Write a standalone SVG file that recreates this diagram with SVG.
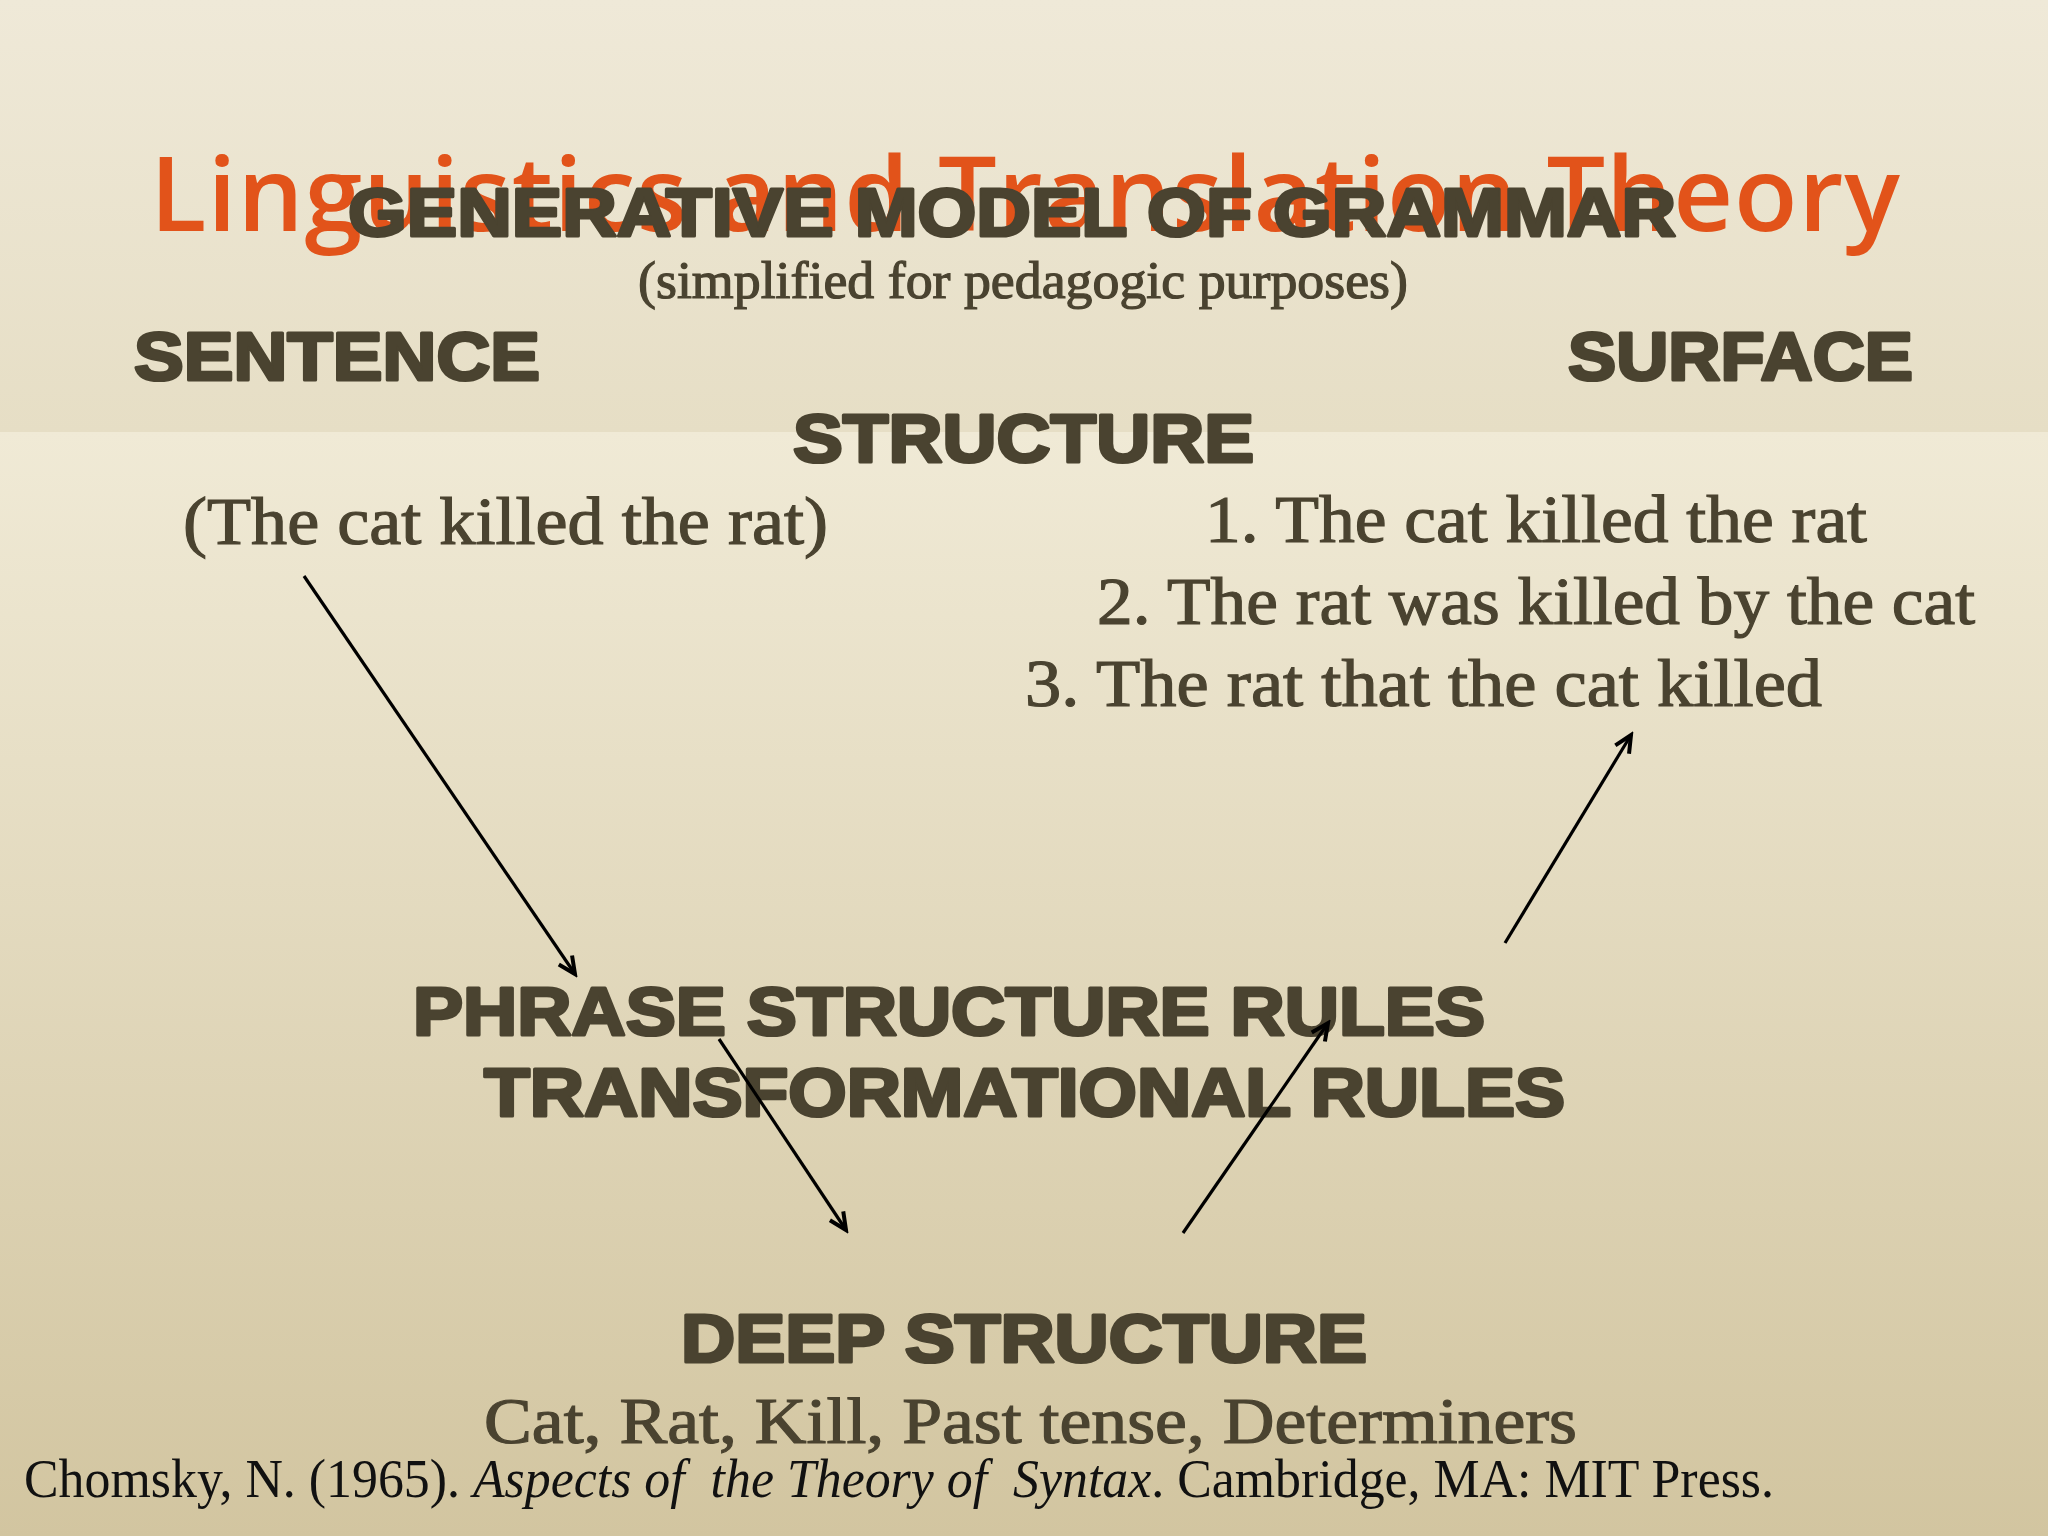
<svg xmlns="http://www.w3.org/2000/svg" width="2048" height="1536" viewBox="0 0 2048 1536">
  <defs>
    <linearGradient id="bgTop" x1="0" y1="0" x2="0" y2="1">
      <stop offset="0" stop-color="#efe9d8"/>
      <stop offset="1" stop-color="#e6dec5"/>
    </linearGradient>
    <linearGradient id="bgBottom" x1="0" y1="0" x2="0" y2="1">
      <stop offset="0" stop-color="#f0ead6"/>
      <stop offset="1" stop-color="#d2c5a0"/>
    </linearGradient>
    <marker id="arrow" markerUnits="userSpaceOnUse" viewBox="-20 -12 24 24" markerWidth="24" markerHeight="24" refX="0" refY="0" orient="auto">
      <path d="M-17,-8 L0,0 L-17,8" fill="none" stroke="#000" stroke-width="4" stroke-linejoin="miter"/>
    </marker>
    <style>
      .title { font-family: "Open Sans", "Noto Sans", sans-serif; font-weight: 600; fill: #e2531a; }
      .heavy { font-family: "Liberation Sans", Arial, sans-serif; font-weight: bold; fill: #4a4330; stroke: #4a4330; stroke-width: 3.2; stroke-linejoin: round; paint-order: stroke; }
      .serif { font-family: "Liberation Serif", "Times New Roman", serif; fill: #4a4330; stroke: #4a4330; stroke-width: 1.2; }
      .ref { font-family: "Liberation Serif", "Times New Roman", serif; fill: #111; white-space: pre; }
      .conn { stroke: #000; stroke-width: 3.2; fill: none; marker-end: url(#arrow); }
    </style>
  </defs>

  <rect x="0" y="0" width="2048" height="432" fill="url(#bgTop)"/>
  <rect x="0" y="432" width="2048" height="1104" fill="url(#bgBottom)"/>

  <g id="title">
    <text class="title" x="150" y="231" font-size="104" textLength="1750">Linguistics and Translation Theory</text>
  </g>

  <g id="heading">
    <text class="heavy" x="348" y="236" font-size="69" textLength="1328" lengthAdjust="spacingAndGlyphs">GENERATIVE MODEL OF GRAMMAR</text>
    <text class="serif" x="638" y="298" font-size="52" textLength="770" lengthAdjust="spacingAndGlyphs">(simplified for pedagogic purposes)</text>
  </g>

  <g id="sentence-input">
    <text class="heavy" x="134" y="380" font-size="69" textLength="406" lengthAdjust="spacingAndGlyphs">SENTENCE</text>
    <text class="serif" x="183" y="544" font-size="68" textLength="645" lengthAdjust="spacingAndGlyphs">(The cat killed the rat)</text>
  </g>

  <g id="surface-structure">
    <text class="heavy" x="1568" y="380" font-size="69" textLength="345" lengthAdjust="spacingAndGlyphs">SURFACE</text>
    <text class="heavy" x="793" y="462" font-size="69" textLength="461" lengthAdjust="spacingAndGlyphs">STRUCTURE</text>
    <text class="serif" x="1205" y="542" font-size="68" textLength="662" lengthAdjust="spacingAndGlyphs">1. The cat killed the rat</text>
    <text class="serif" x="1097" y="624" font-size="68" textLength="878" lengthAdjust="spacingAndGlyphs">2. The rat was killed by the cat</text>
    <text class="serif" x="1025" y="706" font-size="68" textLength="797" lengthAdjust="spacingAndGlyphs">3. The rat that the cat killed</text>
  </g>

  <g id="rules">
    <text class="heavy" x="413" y="1035" font-size="69" textLength="1072" lengthAdjust="spacingAndGlyphs">PHRASE STRUCTURE RULES</text>
    <text class="heavy" x="484" y="1116" font-size="69" textLength="1081" lengthAdjust="spacingAndGlyphs">TRANSFORMATIONAL RULES</text>
  </g>

  <g id="deep-structure">
    <text class="heavy" x="681" y="1362" font-size="69" textLength="686" lengthAdjust="spacingAndGlyphs">DEEP STRUCTURE</text>
    <text class="serif" x="484" y="1443" font-size="66" textLength="1093" lengthAdjust="spacingAndGlyphs">Cat, Rat, Kill, Past tense, Determiners</text>
  </g>

  <g id="reference">
    <text class="ref" x="24" y="1497" font-size="54" textLength="1750" lengthAdjust="spacingAndGlyphs">Chomsky, N. (1965). <tspan font-style="italic">Aspects of  the Theory of  Syntax</tspan>. Cambridge, MA: MIT Press.</text>
  </g>

  <g id="connectors">
    <line class="conn" x1="304" y1="576" x2="575" y2="974"/>
    <line class="conn" x1="719" y1="1039" x2="846" y2="1230"/>
    <line class="conn" x1="1183" y1="1233" x2="1328" y2="1023"/>
    <line class="conn" x1="1505" y1="943" x2="1631" y2="735"/>
  </g>
</svg>
